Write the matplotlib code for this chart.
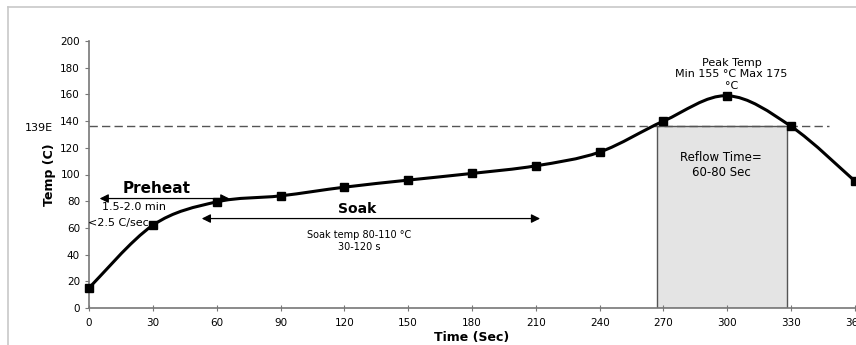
import matplotlib
matplotlib.use('Agg')
import matplotlib.pyplot as plt
from matplotlib.path import Path
from matplotlib.patches import PathPatch, Rectangle
from matplotlib.lines import Line2D
import numpy as np

time_s = [0, 30, 60, 90, 120, 150, 180, 210, 240, 270, 300, 330, 360]
temp_c = [15, 62, 79.5, 84, 90.5, 95.8, 100.8, 106.5, 116.8, 140, 159, 136, 95]
liquidus = 136
reflow_start, reflow_end = 267, 328
x_ticks = [0, 30, 60, 90, 120, 150, 180, 210, 240, 270, 300, 330, 360]
y_ticks = [0, 20, 40, 60, 80, 100, 120, 140, 160, 180, 200]


def smooth_path(xs, ys, tension=1 / 6):
    # Excel-style smoothed line: cubic bezier through the points
    xs = np.asarray(xs, float)
    ys = np.asarray(ys, float)
    n = len(xs)
    verts = [(xs[0], ys[0])]
    codes = [Path.MOVETO]
    for i in range(n - 1):
        p0 = (xs[max(i - 1, 0)], ys[max(i - 1, 0)])
        p1 = (xs[i], ys[i])
        p2 = (xs[i + 1], ys[i + 1])
        p3 = (xs[min(i + 2, n - 1)], ys[min(i + 2, n - 1)])
        c1 = (p1[0] + (p2[0] - p0[0]) * tension, p1[1] + (p2[1] - p0[1]) * tension)
        c2 = (p2[0] - (p3[0] - p1[0]) * tension, p2[1] - (p3[1] - p1[1]) * tension)
        verts += [c1, c2, p2]
        codes += [Path.CURVE4] * 3
    return Path(verts, codes)


fig = plt.figure(figsize=(8.56, 3.45), dpi=100)
ax = fig.add_axes([89 / 856, 37 / 345, (855 - 89) / 856, (308 - 41) / 345])
ax.set_xlim(0, 360)
ax.set_ylim(0, 200)

# figure frame (left and top)
fig.add_artist(Line2D([8 / 856, 8 / 856], [0, 1 - 7 / 345], color='#c8c8c8', lw=1.2))
fig.add_artist(Line2D([8 / 856, 1], [1 - 7 / 345, 1 - 7 / 345], color='#c8c8c8', lw=1.2))

ax.add_patch(Rectangle((reflow_start, 0), reflow_end - reflow_start, liquidus,
                       facecolor='#e4e4e4', edgecolor='#555555', lw=1.0, zorder=1))
ax.plot([0, 348], [liquidus, liquidus], ls=(0, (6, 3)), color='#555555', lw=1.0, zorder=2)

ax.add_patch(PathPatch(smooth_path(time_s, temp_c), fill=False, lw=2.2,
                       edgecolor='black', zorder=3, clip_on=False))
ax.plot(time_s, temp_c, ls='none', marker='s', ms=5.5, color='black', zorder=4, clip_on=False)

arrow = dict(arrowstyle='<|-|>', color='black', lw=0.9, mutation_scale=13,
             shrinkA=0, shrinkB=0)
ax.annotate('', xy=(5, 82), xytext=(66, 82), arrowprops=arrow, zorder=5)
ax.annotate('', xy=(53, 67), xytext=(212, 67), arrowprops=arrow, zorder=5)

ax.text(16, 84, 'Preheat', fontsize=11, fontweight='bold', ha='left', va='bottom')
ax.text(6, 76, '1.5-2.0 min', fontsize=8, ha='left', va='center')
ax.text(-0.5, 64, '<2.5 C/sec', fontsize=8, ha='left', va='center')
ax.text(126, 74, 'Soak', fontsize=10, fontweight='bold', ha='center', va='center')
ax.text(127, 50, 'Soak temp 80-110 °C\n30-120 s', fontsize=7, ha='center', va='center',
        linespacing=1.2)
ax.text(302, 175, 'Peak Temp\nMin 155 °C Max 175\n°C', fontsize=8, ha='center',
        va='center', linespacing=1.2)
ax.text(297, 107, 'Reflow Time=\n60-80 Sec', fontsize=8.5, ha='center', va='center',
        linespacing=1.2)
ax.text(-17, liquidus - 1.5, '139E', fontsize=8, ha='right', va='center')

ax.set_xticks(x_ticks)
ax.set_yticks(y_ticks)
ax.tick_params(axis='both', labelsize=7.5, color='#777777', length=3)
ax.tick_params(axis='x', direction='inout', length=5, pad=5)
ax.set_xlabel('Time (Sec)', fontsize=9, fontweight='bold', labelpad=2)
ax.set_ylabel('Temp (C)', fontsize=9, fontweight='bold', labelpad=3)
for side in ['top', 'right']:
    ax.spines[side].set_visible(False)
for side in ['left', 'bottom']:
    ax.spines[side].set_color('#777777')
    ax.spines[side].set_linewidth(1.2)

fig.savefig('out.png', dpi=100)
